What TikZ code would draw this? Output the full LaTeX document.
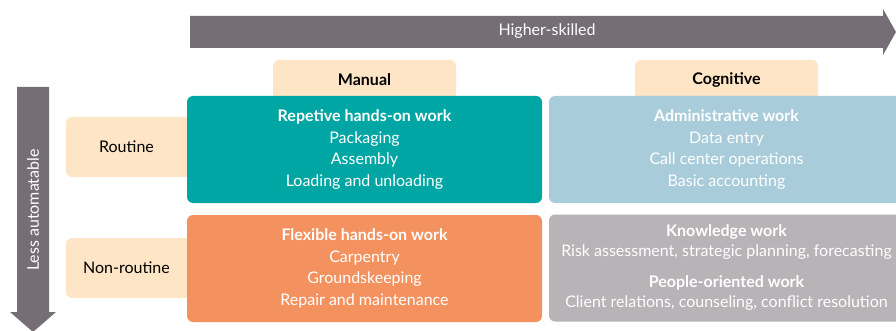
\documentclass[tikz,border=0pt]{standalone}
\usepackage{fontspec}
\setmainfont{Lato}
\usetikzlibrary{positioning}
\definecolor{arrowgrey}{RGB}{117,110,117}
\definecolor{tabbeige}{RGB}{254,229,197}
\definecolor{handsteal}{RGB}{0,166,163}
\definecolor{adminblue}{RGB}{169,204,219}
\definecolor{flexorange}{RGB}{244,146,95}
\definecolor{knowgrey}{RGB}{184,179,182}

\begin{document}
\begin{tikzpicture}[x=1pt,y=-1pt,
  every node/.style={font=\fontsize{16}{21.4}\selectfont},
  tab/.style={fill=tabbeige,rounded corners=6pt,inner sep=0pt},
  cell/.style={rounded corners=6pt,inner sep=0pt,minimum width=355pt,minimum height=107pt,
               align=center,text=white},
  axis/.style={fill=arrowgrey}]
\useasboundingbox (0,0) rectangle (896,331);

% the two axis arrows
\fill[axis] (190,16) -- (883,16) -- (883,9) -- (896,32) -- (883,55) -- (883,48) -- (190,48) -- cycle;
\node[text=white] (skill) at (547,31) {Higher-skilled};
\fill[axis] (17,87) -- (49,87) -- (49,312) -- (56,312) -- (33,332) -- (10,312) -- (17,312) -- cycle;
\node[text=white,rotate=90] (auto) at (33,210) {Less automatable};

% column and row tabs, partly hidden under the cells
\node[tab,minimum width=183pt,minimum height=50pt,
      label={[yshift=5pt]center:\textbf{Manual}}] (man) at (364.5,85) {};
\node[tab,minimum width=183pt,minimum height=50pt,
      label={[yshift=5pt]center:\textbf{Cognitive}}] (cog) at (726.5,85) {};
\node[tab,minimum width=134pt,minimum height=60pt,
      label={[xshift=-6.5pt]center:Routine}] (rout) at (133,147) {};
\node[tab,minimum width=134pt,minimum height=60pt,
      label={[xshift=-6.5pt]center:Non-routine}] (nrout) at (133,268) {};

\node[cell,fill=handsteal] (rep) at (364.5,149.5) {\textbf{Repetive hands-on work}\\
  Packaging\\ Assembly\\ Loading and unloading};
\node[cell,fill=adminblue] (adm) at (726.5,149.5) {\textbf{Administrative work}\\
  Data entry\\ Call center operations\\ Basic accounting};
\node[cell,fill=flexorange] (flex) at (364.5,268.5) {\textbf{Flexible hands-on work}\\
  Carpentry\\ Groundskeeping\\ Repair and maintenance};
\node[cell,fill=knowgrey] (know) at (726.5,268) {\textbf{Knowledge work}\\[-1.4pt]
  Risk assessment, strategic planning, forecasting\\[9.6pt]
  \textbf{People-oriented work}\\[-1.4pt]
  Client relations, counseling, conflict resolution};
\end{tikzpicture}
\end{document}
